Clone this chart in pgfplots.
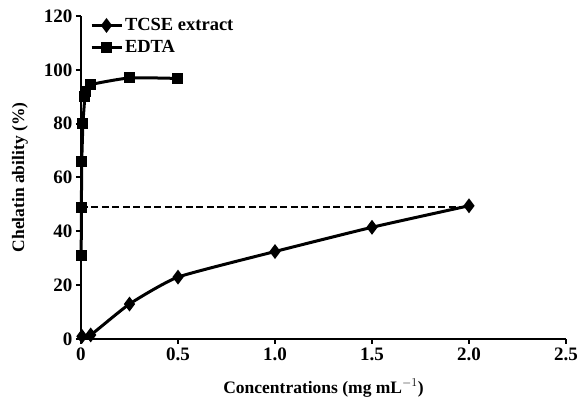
\documentclass[border=0pt]{standalone}
\usepackage{fontspec}
\setmainfont{Liberation Serif}
\usepackage{pgfplots}
\pgfplotsset{compat=1.18}
\begin{document}
\begin{tikzpicture}
\begin{axis}[
    at={(0,0)}, anchor=south west,
    scale only axis,
    width=485pt, height=323pt,
    xmin=0, xmax=2.5, ymin=0, ymax=120,
    axis lines=left,
    axis line style={line width=2.2pt,-},
    xtick={0,0.5,1,1.5,2,2.5},
    xticklabels={0,0.5,1.0,1.5,2.0,2.5},
    ytick={0,20,...,120},
    tick style={line width=2pt,black},
    tick align=outside,
    major tick length=5pt,
    ticklabel style={font=\fontsize{19}{21}\selectfont\bfseries},
    /pgf/number format/assume math mode=true,
    xlabel={\bfseries Concentrations (mg mL$^{-1}$)},
    ylabel={\bfseries Chelatin ability (\%)},
    label style={font=\fontsize{17.5}{19}\selectfont},
    xlabel style={at={(axis description cs:0.5,-0.152)}, anchor=center},
    ylabel style={at={(axis description cs:-0.126,0.5)}, anchor=center},
    legend style={at={(axis description cs:0.012,1.005)}, anchor=north west, draw=none, fill=none,
        font=\fontsize{18.5}{20}\selectfont\bfseries, row sep=4pt},
    legend cell align=left,
    legend image code/.code={%
        \draw[mark repeat=2,mark phase=2] plot coordinates {(0pt,0pt) (15pt,0pt) (30pt,0pt)};},
    clip=false,
]
\addplot[black, line width=3pt, mark=diamond*, mark size=5pt, smooth, tension=0.3] coordinates {
    (0.005,1) (0.05,1.5) (0.25,13) (0.5,23) (1.0,32.5) (1.5,41.5) (2.0,49.5)
};
\addlegendentry{TCSE extract}
\addplot[black, line width=3pt, mark=square*, mark size=4pt, smooth, tension=0.3] coordinates {
    (0.001,31) (0.002,49) (0.004,66) (0.01,80) (0.02,90) (0.025,92) (0.05,94.5) (0.25,97) (0.5,96.8)
};
\addlegendentry{EDTA}
\addplot[black, line width=1.6pt, dash pattern=on 7pt off 3.5pt, forget plot] coordinates {(0,49) (2.0,49)};
\end{axis}
\pgfresetboundingbox
\path (-81pt,-64pt) rectangle (498pt,339pt);
\end{tikzpicture}
\end{document}
